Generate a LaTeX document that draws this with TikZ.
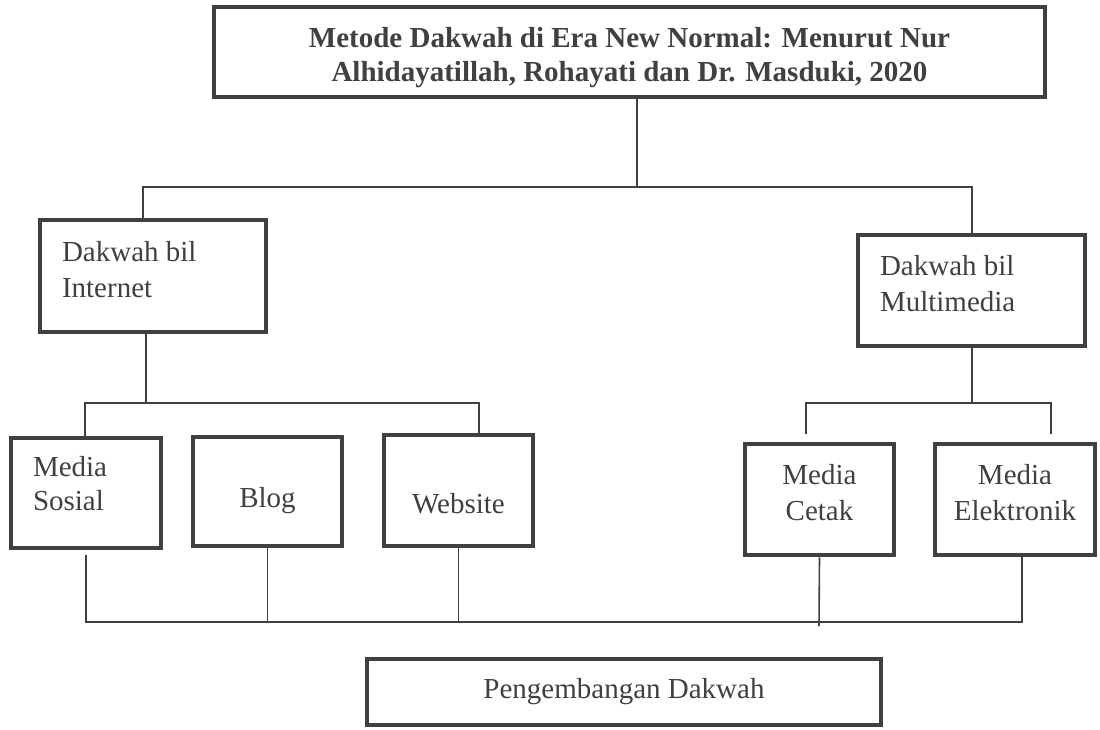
\documentclass[tikz,border=0pt]{standalone}
\usepackage{fontspec}
\setmainfont{Liberation Serif}
\definecolor{ink}{gray}{0.25}
\tikzset{
  box/.style={draw=ink, line width=4.5pt, inner xsep=22pt, inner ysep=0pt, text=ink,
    font=\fontsize{29}{36}\selectfont},
  twoline/.style={text depth=50pt},
  link/.style={draw=ink, line width=1.6pt},
}
\begin{document}
\begin{tikzpicture}[x=1pt,y=-1pt]
  \useasboundingbox[fill=white] (0,0) rectangle (1100,729);
  % title box
  \node[box, minimum width=831pt, minimum height=90pt, text width=787pt, align=flush center, text depth=29pt,
    font=\fontsize{29}{34}\selectfont\bfseries] (metode) at (629.5,52)
    {Metode Dakwah di Era New Normal: Menurut Nur\\Alhidayatillah, Rohayati dan Dr. Masduki, 2020};
  \node[box, twoline, minimum height=112pt, text width=182pt, align=flush left] (inet) at (153,276)
    {Dakwah bil\\Internet};
  \node[box, twoline, minimum height=111pt, text width=183pt, align=flush left] (multi) at (971.5,290.5)
    {Dakwah bil\\Multimedia};
  % media boxes
  \node[box, minimum height=110pt, text width=106pt, align=flush left, text depth=54pt,
    font=\fontsize{29}{34}\selectfont] (sosial) at (86,493) {Media\\Sosial};
  \node[box, minimum height=109pt, text width=105pt, align=flush center, text height=38pt] (blog) at (267.5,491.5) {Blog};
  \node[box, minimum height=111pt, text width=105pt, align=flush center, text height=46pt] (website) at (458.5,490.5) {Website};
  \node[box, twoline, minimum height=111pt, text width=105pt, align=flush center] (cetak) at (819.5,499.5)
    {Media\\Cetak};
  \node[box, twoline, minimum height=111pt, inner xsep=10pt, text width=140pt, align=flush center] (elektronik) at (1015,499.5)
    {Media\\Elektronik};
  \node[box, minimum width=514pt, minimum height=66pt] (hasil) at (624,692) {Pengembangan Dakwah};
  % junctions
  \coordinate (trunk) at (637,187);
  \coordinate (bl) at (143,187);
  \coordinate (br) at (972,187);
  \coordinate (inetbus) at (146,403);
  \coordinate (sostop) at (85,403);
  \coordinate (webtop) at (479,403);
  \coordinate (multibus) at (972,403);
  \coordinate (cettop) at (806,403);
  \coordinate (elktop) at (1051,403);
  \coordinate (cetend) at (806,434);
  \coordinate (elkend) at (1051,434);
  \coordinate (sosbot) at (86,555);
  \coordinate (basel) at (86,622);
  \coordinate (baser) at (1022,622);
  \coordinate (cetbot) at (819,626);
  % connectors
  \draw[link] (trunk |- metode.south) -- (trunk);
  \draw[link] (bl |- inet.north) -- (bl) -- (br) -- (br |- multi.north);
  \draw[link] (inetbus |- inet.south) -- (inetbus);
  \draw[link] (sostop |- sosial.north) -- (sostop) -- (webtop) -- (webtop |- website.north);
  \draw[link] (multibus |- multi.south) -- (multibus);
  \draw[link] (cetend) -- (cettop) -- (elktop) -- (elkend);
  \draw[link] (sosbot) -- (basel) -- (baser) -- (baser |- elektronik.south);
  \draw[link] (blog.south) -- (blog.south |- basel);
  \draw[link] (website.south) -- (website.south |- basel);
  \draw[link] (cetak.south) -- (cetbot);
\end{tikzpicture}
\end{document}
